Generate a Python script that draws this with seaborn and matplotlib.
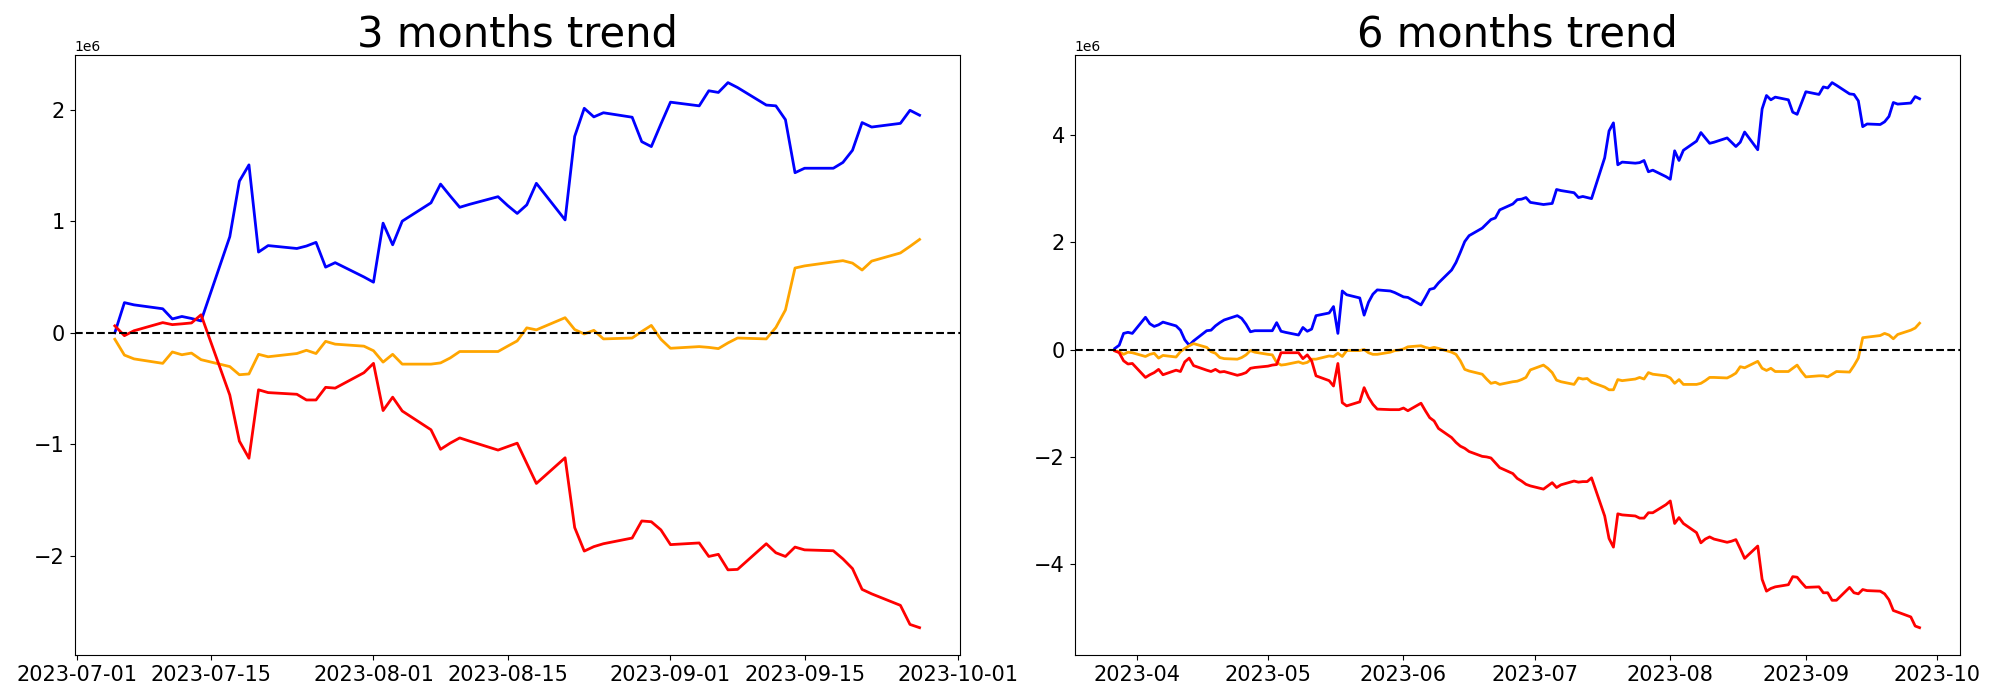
import matplotlib
matplotlib.use("Agg")
import matplotlib.pyplot as plt
import seaborn as sns
import pandas as pd
import numpy as np

SCALE = 1e6  # values below are in millions

# ---------------- 3 months (business days 2023-07-05 .. 2023-09-27) ----------------
dates_3m = pd.bdate_range("2023-07-05", "2023-09-27")

blue_3m = [
    0.0, 0.27, 0.25,
    0.215, 0.124, 0.146, 0.128, 0.106,
    0.861, 1.358, 1.504, 0.723, 0.781,
    0.755, 0.777, 0.81, 0.588, 0.628,
    0.50,
    0.453, 0.982, 0.788, 1.0,
    1.164, 1.332, 1.226, 1.124, 1.15,
    1.219, 1.14, 1.069, 1.146, 1.339,
    1.011, 1.759, 2.011, 1.934, 1.971,
    1.931, 1.712, 1.668, 1.87,
    2.066,
    2.033, 2.168, 2.153, 2.241, 2.197,
    2.04, 2.033, 1.909, 1.434, 1.474,
    1.474, 1.526, 1.635, 1.883, 1.843,
    1.876, 1.993, 1.949,
]
orange_3m = [
    -0.058, -0.20, -0.234,
    -0.274, -0.172, -0.197, -0.182, -0.241,
    -0.303, -0.376, -0.369, -0.193, -0.215,
    -0.186, -0.157, -0.186, -0.077, -0.102,
    -0.12,
    -0.161, -0.263, -0.193, -0.281,
    -0.281, -0.27, -0.226, -0.168, -0.168,
    -0.168, -0.12, -0.073, 0.044, 0.026,
    0.135, 0.029, -0.011, 0.022, -0.055,
    -0.047, 0.011, 0.066, -0.058,
    -0.139,
    -0.124, -0.131, -0.142, -0.091, -0.047,
    -0.055, 0.047, 0.204, 0.58, 0.599,
    0.635, 0.646, 0.624, 0.562, 0.642,
    0.715, 0.774, 0.836,
]
red_3m = [
    0.062, -0.026, 0.018,
    0.091, 0.073, 0.08, 0.088, 0.161,
    -0.558, -0.971, -1.124, -0.511, -0.536,
    -0.551, -0.602, -0.602, -0.489, -0.496,
    -0.358,
    -0.274, -0.697, -0.577, -0.701,
    -0.869, -1.044, -0.989, -0.942, -0.97,
    -1.051, -1.02, -0.989, -1.17, -1.35,
    -1.12, -1.745, -1.956, -1.916, -1.89,
    -1.839, -1.686, -1.693, -1.766,
    -1.898,
    -1.883, -2.004, -1.985, -2.124, -2.12,
    -1.89, -1.971, -2.004, -1.92, -1.945,
    -1.953, -2.026, -2.113, -2.299, -2.339,
    -2.442, -2.613, -2.642,
]

# ---------------- 6 months (business days 2023-03-27 .. 2023-09-27) ----------------
dates_6m = pd.bdate_range("2023-03-27", "2023-09-27")

blue_6m = [
    0.02, 0.08, 0.30, 0.32, 0.30,
    0.60, 0.48, 0.43, 0.46, 0.51,
    0.44, 0.36, 0.18, 0.08, 0.16,
    0.35, 0.36, 0.44, 0.50, 0.55,
    0.63, 0.58, 0.47, 0.33, 0.35,
    0.35, 0.35, 0.50, 0.34, 0.32,
    0.27, 0.41, 0.34, 0.38, 0.63,
    0.68, 0.80, 0.30, 1.09, 1.02,
    0.96, 0.64, 0.88, 1.03, 1.11,
    1.09, 1.06, 1.02,
    0.98, 0.97,
    0.83, 0.97, 1.12, 1.14, 1.24,
    1.48, 1.62, 1.81, 2.01, 2.12,
    2.26, 2.34, 2.42, 2.45, 2.60,
    2.71, 2.79, 2.80, 2.83, 2.74,
    2.70, 2.71, 2.72, 2.98, 2.96,
    2.92, 2.83, 2.85, 2.83, 2.81,
    3.57, 4.07, 4.22, 3.44, 3.49,
    3.47, 3.48, 3.52, 3.31, 3.34,
    3.22,
    3.17, 3.70, 3.52, 3.71,
    3.88, 4.04, 3.94, 3.84, 3.86,
    3.94, 3.86, 3.78, 3.86, 4.05,
    3.72, 4.48, 4.73, 4.65, 4.70,
    4.65, 4.42, 4.38, 4.59,
    4.80,
    4.75, 4.89, 4.87, 4.97, 4.92,
    4.76, 4.75, 4.63, 4.15, 4.20,
    4.19, 4.24, 4.34, 4.60, 4.57,
    4.59, 4.71, 4.67,
]
orange_6m = [
    -0.025, -0.04, -0.09, -0.05, -0.06,
    -0.13, -0.09, -0.07, -0.16, -0.11,
    -0.14, -0.04, 0.02, 0.07, 0.11,
    0.04, -0.04, -0.07, -0.15, -0.17,
    -0.18, -0.15, -0.10, -0.02, -0.05,
    -0.09, -0.10, -0.24, -0.29, -0.28,
    -0.23, -0.26, -0.24, -0.18, -0.18,
    -0.12, -0.13, -0.07, -0.13, -0.02,
    -0.02, 0.0, -0.06, -0.09, -0.09,
    -0.05, -0.02, -0.01,
    0.01, 0.05,
    0.07, 0.04, 0.02, 0.04, 0.02,
    -0.05, -0.09, -0.21, -0.37, -0.40,
    -0.46, -0.55, -0.63, -0.61, -0.65,
    -0.60, -0.59, -0.56, -0.52, -0.38,
    -0.29, -0.35, -0.43, -0.57, -0.60,
    -0.65, -0.53, -0.55, -0.54, -0.61,
    -0.70, -0.75, -0.75, -0.56, -0.58,
    -0.55, -0.52, -0.55, -0.43, -0.46,
    -0.49,
    -0.53, -0.63, -0.56, -0.65,
    -0.65, -0.63, -0.58, -0.52, -0.52,
    -0.53, -0.49, -0.44, -0.32, -0.34,
    -0.22, -0.35, -0.39, -0.35, -0.41,
    -0.41, -0.35, -0.29, -0.41,
    -0.51,
    -0.49, -0.49, -0.51, -0.46, -0.41,
    -0.42, -0.30, -0.16, 0.22, 0.23,
    0.26, 0.30, 0.27, 0.20, 0.28,
    0.36, 0.40, 0.49,
]
red_6m = [
    -0.025, -0.06, -0.21, -0.27, -0.26,
    -0.52, -0.47, -0.43, -0.37, -0.47,
    -0.385, -0.41, -0.23, -0.16, -0.30,
    -0.385, -0.41, -0.37, -0.42, -0.41,
    -0.48, -0.46, -0.43, -0.35, -0.335,
    -0.31, -0.29, -0.28, -0.06, -0.06,
    -0.06, -0.17, -0.10, -0.21, -0.49,
    -0.58, -0.68, -0.26, -0.99, -1.05,
    -0.975, -0.71, -0.89, -1.02, -1.11,
    -1.12, -1.12, -1.12,
    -1.09, -1.14,
    -1.00, -1.14, -1.27, -1.33, -1.47,
    -1.64, -1.73, -1.80, -1.84, -1.90,
    -1.99, -2.00, -2.02, -2.11, -2.20,
    -2.31, -2.40, -2.45, -2.51, -2.54,
    -2.60, -2.54, -2.48, -2.57, -2.52,
    -2.45, -2.47, -2.46, -2.46, -2.39,
    -3.10, -3.52, -3.68, -3.06, -3.08,
    -3.10, -3.14, -3.14, -3.04, -3.04,
    -2.89,
    -2.82, -3.24, -3.13, -3.24,
    -3.41, -3.60, -3.53, -3.49, -3.53,
    -3.59, -3.57, -3.54, -3.71, -3.89,
    -3.66, -4.28, -4.50, -4.45, -4.42,
    -4.38, -4.23, -4.24, -4.34,
    -4.43,
    -4.42, -4.53, -4.53, -4.67, -4.67,
    -4.43, -4.53, -4.55, -4.47, -4.49,
    -4.50, -4.55, -4.66, -4.86, -4.89,
    -4.98, -5.15, -5.18,
]

titles = ["3 months trend", "6 months trend"]
colors = ["blue", "orange", "red"]

panels = [
    (dates_3m, [blue_3m, orange_3m, red_3m]),
    (dates_6m, [blue_6m, orange_6m, red_6m]),
]

fig, axes = plt.subplots(1, 2, figsize=(20, 7), dpi=100)
fig.subplots_adjust(left=0.0373, right=0.9799, bottom=0.0644, top=0.9209, wspace=0.1297)

for ax, title, (dates, series) in zip(axes, titles, panels):
    for vals, col in zip(series, colors):
        assert len(vals) == len(dates)
        sns.lineplot(x=dates, y=np.asarray(vals) * SCALE, color=col, linewidth=2, ax=ax)
    ax.axhline(0, color="black", linestyle="--", linewidth=1.5)
    ax.set_title(title, fontsize=30)
    ax.tick_params(axis="both", labelsize=15)
    ax.set_xlabel("")
    ax.set_ylabel("")

fig.savefig("out.png", dpi=100)
